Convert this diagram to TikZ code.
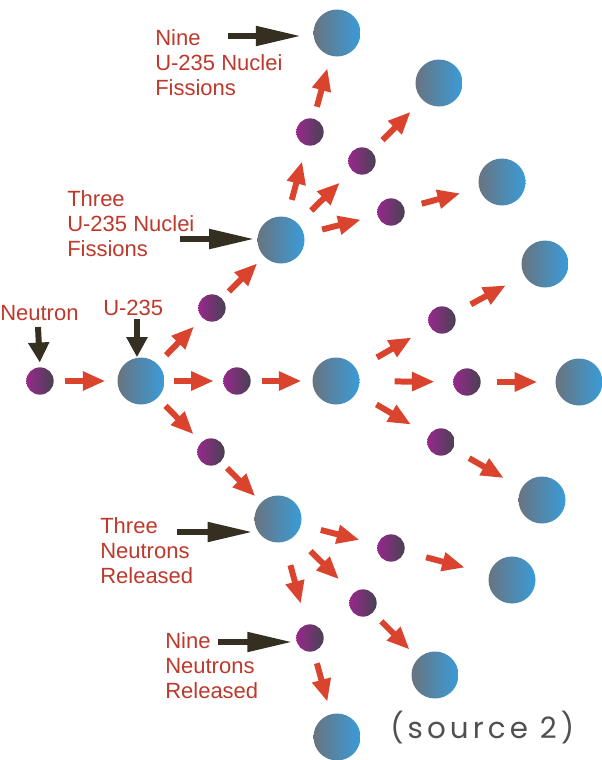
\documentclass[tikz,border=0pt]{standalone}
\usepackage{fontspec}
\setmainfont{Liberation Sans}
\newfontfamily\sourcefont[LetterSpace=14]{Poppins}
\usetikzlibrary{arrows.meta,calc}
\definecolor{FireRed}{RGB}{218,68,46}
\definecolor{LabelRed}{RGB}{190,56,44}
\definecolor{PointerBlack}{RGB}{52,47,32}
\definecolor{NucleusGray}{RGB}{104,116,128}
\definecolor{NucleusBlue}{RGB}{58,156,216}
\definecolor{NeutronPurple}{RGB}{152,40,140}
\definecolor{NeutronDark}{RGB}{72,66,82}
\definecolor{SourceGray}{RGB}{80,80,80}
\tikzset{
  nucleus/.style={circle,inner sep=0pt,minimum size=35.25pt,
    left color=NucleusGray,right color=NucleusBlue},
  neutron/.style={circle,inner sep=0pt,minimum size=20.5pt,
    left color=NeutronPurple,right color=NeutronDark},
  fission/.style={-{Triangle[length=17pt,width=13.5pt]},
    line width=4.5pt,draw=FireRed},
  pointer/.style={-{Triangle[length=34pt,width=14pt]},
    line width=4.5pt,draw=PointerBlack},
  shortpointer/.style={-{Triangle[length=15pt,width=15pt]},
    line width=4.5pt,draw=PointerBlack},
  note/.style={text=LabelRed,anchor=north west,inner sep=0pt,align=left,
    font=\fontsize{16.5}{18.75}\selectfont},
}

\begin{document}
\begin{tikzpicture}[x=0.75pt,y=-0.75pt]
  \useasboundingbox (0,0) rectangle (602,760);

  % first fission
  \node[neutron] (neutron) at (40,381) {};
  \node[nucleus] (uranium) at (141,381) {};
  \node[neutron] (a1) at (212,308) {};
  \node[neutron] (a2) at (237,381) {};
  \node[neutron] (a3) at (211,452) {};

  % three nuclei
  \node[nucleus] (b1) at (281,240) {};
  \node[nucleus] (b2) at (336,381) {};
  \node[nucleus] (b3) at (278,519) {};

  % nine neutrons
  \node[neutron] (c1) at (310,132) {};
  \node[neutron] (c2) at (362,161) {};
  \node[neutron] (c3) at (391,212) {};
  \node[neutron] (c4) at (442,320) {};
  \node[neutron] (c5) at (467,382) {};
  \node[neutron] (c6) at (441,442) {};
  \node[neutron] (c7) at (391,548) {};
  \node[neutron] (c8) at (363,603) {};
  \node[neutron] (c9) at (310,638) {};

  % nine nuclei
  \node[nucleus] (d1) at (337,33) {};
  \node[nucleus] (d2) at (439,83) {};
  \node[nucleus] (d3) at (502,182) {};
  \node[nucleus] (d4) at (545,264) {};
  \node[nucleus] (d5) at (579,382) {};
  \node[nucleus] (d6) at (542,500) {};
  \node[nucleus] (d7) at (512,580) {};
  \node[nucleus] (d8) at (435,675) {};
  \node[nucleus] (d9) at (337,737) {};

  % red arrows, set a little towards the smaller particle
  \draw[fission] ($(neutron)!.45!(uranium)!15pt!(neutron)$) -- ($(neutron)!.45!(uranium)!15pt!(uranium)$);
  \draw[fission] ($(uranium)!.55!(a1)!15pt!(uranium)$) -- ($(uranium)!.55!(a1)!15pt!(a1)$);
  \draw[fission] ($(uranium)!.55!(a2)!15pt!(uranium)$) -- ($(uranium)!.55!(a2)!15pt!(a2)$);
  \draw[fission] ($(uranium)!.55!(a3)!15pt!(uranium)$) -- ($(uranium)!.55!(a3)!15pt!(a3)$);
  \draw[fission] ($(a1)!.45!(b1)!15pt!(a1)$) -- ($(a1)!.45!(b1)!15pt!(b1)$);
  \draw[fission] ($(a2)!.45!(b2)!15pt!(a2)$) -- ($(a2)!.45!(b2)!15pt!(b2)$);
  \draw[fission] ($(a3)!.45!(b3)!15pt!(a3)$) -- ($(a3)!.45!(b3)!15pt!(b3)$);
  \draw[fission] ($(b1)!.55!(c1)!15pt!(b1)$) -- ($(b1)!.55!(c1)!15pt!(c1)$);
  \draw[fission] ($(b1)!.55!(c2)!15pt!(b1)$) -- ($(b1)!.55!(c2)!15pt!(c2)$);
  \draw[fission] ($(b1)!.55!(c3)!15pt!(b1)$) -- ($(b1)!.55!(c3)!15pt!(c3)$);
  \draw[fission] ($(b2)!.55!(c4)!15pt!(b2)$) -- ($(b2)!.55!(c4)!15pt!(c4)$);
  \draw[fission] ($(b2)!.6!(c5)!15pt!(b2)$) -- ($(b2)!.6!(c5)!15pt!(c5)$);
  \draw[fission] ($(b2)!.55!(c6)!15pt!(b2)$) -- ($(b2)!.55!(c6)!15pt!(c6)$);
  \draw[fission] ($(b3)!.55!(c7)!15pt!(b3)$) -- ($(b3)!.55!(c7)!15pt!(c7)$);
  \draw[fission] ($(b3)!.55!(c8)!15pt!(b3)$) -- ($(b3)!.55!(c8)!15pt!(c8)$);
  \draw[fission] ($(b3)!.55!(c9)!15pt!(b3)$) -- ($(b3)!.55!(c9)!15pt!(c9)$);
  \draw[fission] ($(c1)!.45!(d1)!15pt!(c1)$) -- ($(c1)!.45!(d1)!15pt!(d1)$);
  \draw[fission] ($(c2)!.45!(d2)!15pt!(c2)$) -- ($(c2)!.45!(d2)!15pt!(d2)$);
  \draw[fission] ($(c3)!.45!(d3)!15pt!(c3)$) -- ($(c3)!.45!(d3)!15pt!(d3)$);
  \draw[fission] ($(c4)!.45!(d4)!15pt!(c4)$) -- ($(c4)!.45!(d4)!15pt!(d4)$);
  \draw[fission] ($(c5)!.45!(d5)!15pt!(c5)$) -- ($(c5)!.45!(d5)!15pt!(d5)$);
  \draw[fission] ($(c6)!.45!(d6)!15pt!(c6)$) -- ($(c6)!.45!(d6)!15pt!(d6)$);
  \draw[fission] ($(c7)!.45!(d7)!15pt!(c7)$) -- ($(c7)!.45!(d7)!15pt!(d7)$);
  \draw[fission] ($(c8)!.45!(d8)!15pt!(c8)$) -- ($(c8)!.45!(d8)!15pt!(d8)$);
  \draw[fission] ($(c9)!.45!(d9)!15pt!(c9)$) -- ($(c9)!.45!(d9)!15pt!(d9)$);

  % labels and pointers
  \node[note] (neutronLabel) at (0,305) {Neutron};
  \coordinate (neutronTail) at (38,327);
  \draw[shortpointer,shorten >=3.4pt] (neutronTail) -- (neutron.north);

  \node[note] (uraniumLabel) at (103,300) {U-235};
  \coordinate (uraniumTail) at (137,319);
  \draw[shortpointer] (uraniumTail) -- (uraniumTail |- uranium.north);

  \node[note] (threeNuclei) at (67,190) {Three\\U-235 Nuclei\\Fissions};
  \coordinate (threeNucleiTail) at (180,239);
  \draw[pointer,shorten >=2pt] (threeNucleiTail) -- (threeNucleiTail -| b1.west);

  \node[note] (nineNuclei) at (155,29) {Nine\\U-235 Nuclei\\Fissions};
  \coordinate (nineNucleiTail) at (228,36);
  \draw[pointer,shorten >=9pt] (nineNucleiTail) -- (nineNucleiTail -| d1.west);

  \node[note] (threeNeutrons) at (100,517) {Three\\Neutrons\\Released};
  \coordinate (threeNeutronsTail) at (177,532);
  \draw[pointer,shorten >=1pt] (threeNeutronsTail) -- (threeNeutronsTail -| b3.west);

  \node[note] (nineNeutrons) at (165,632) {Nine\\Neutrons\\Released};
  \coordinate (nineNeutronsTail) at (218,642);
  \draw[pointer,shorten >=2.6pt] (nineNeutronsTail) -- (nineNeutronsTail -| c9.west);

  \node[anchor=base west,inner sep=0pt,text=SourceGray,
    font=\sourcefont\fontsize{22}{25}\selectfont] (source) at (390,738) {(source 2)};
\end{tikzpicture}
\end{document}
